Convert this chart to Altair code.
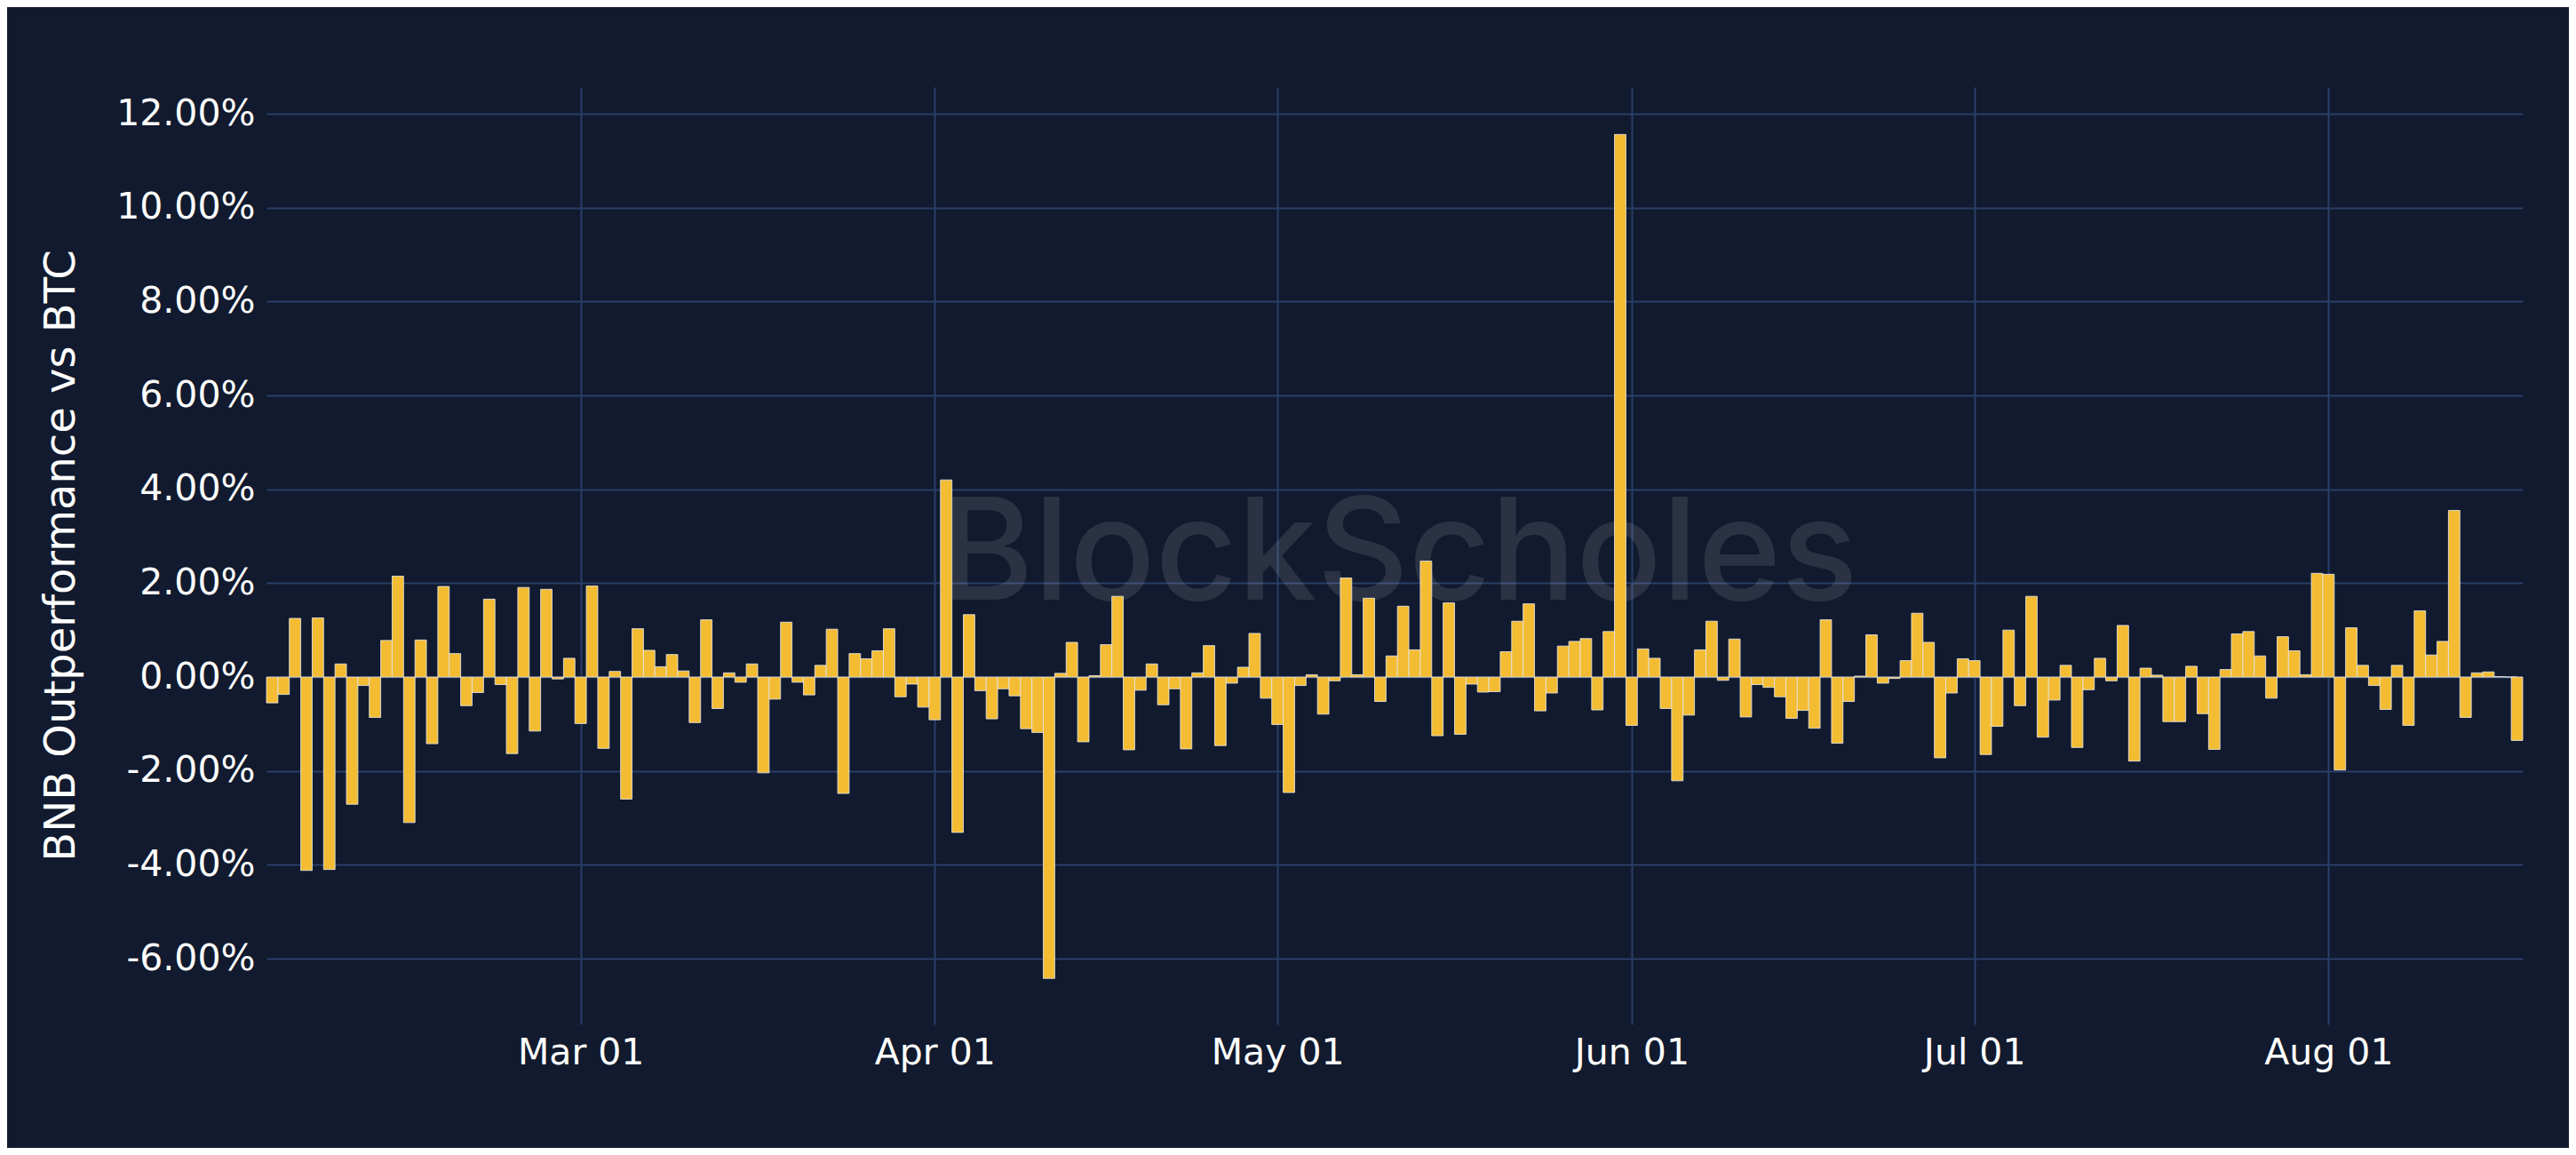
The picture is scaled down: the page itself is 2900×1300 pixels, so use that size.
import altair as alt
import pandas as pd

# ---- data (percent outperformance of BNB vs BTC, daily) ----
start_date = "2023-02-02"
feb_values = [-0.55, -0.37, 1.25, -4.12, 1.26, -4.10, 0.28, -2.71, -0.18, -0.86,
              0.78, 2.15, -3.10, 0.79, -1.42, 1.93, 0.50, -0.61, -0.33, 1.66,
              -0.16, -1.63, 1.91, -1.15, 1.87, -0.04, 0.40]
mar_values = [-0.99, 1.94, -1.52, 0.12, -2.60, 1.03, 0.57, 0.22, 0.48, 0.13,
              -0.97, 1.22, -0.67, 0.09, -0.11, 0.28, -2.04, -0.47, 1.17, -0.11,
              -0.38, 0.25, 1.02, -2.48, 0.50, 0.39, 0.56, 1.03, -0.42, -0.15, -0.64]
apr_values = [-0.91, 4.20, -3.31, 1.33, -0.29, -0.89, -0.25, -0.40, -1.10, -1.18,
              -6.42, 0.08, 0.74, -1.38, 0.03, 0.69, 1.72, -1.55, -0.28, 0.28,
              -0.59, -0.25, -1.53, 0.09, 0.67, -1.46, -0.13, 0.21, 0.93, -0.45]
may_values = [-1.01, -2.46, -0.18, 0.05, -0.79, -0.08, 2.11, 0.05, 1.68, -0.52,
              0.45, 1.51, 0.58, 2.47, -1.25, 1.58, -1.22, -0.15, -0.32, -0.31,
              0.54, 1.19, 1.56, -0.72, -0.34, 0.66, 0.76, 0.82, -0.70, 0.97, 11.56]
jun_values = [-1.03, 0.60, 0.40, -0.67, -2.21, -0.81, 0.58, 1.19, -0.07, 0.81,
              -0.85, -0.16, -0.22, -0.42, -0.88, -0.71, -1.09, 1.22, -1.41, -0.52,
              0.02, 0.90, -0.13, -0.03, 0.35, 1.36, 0.74, -1.72, -0.34, 0.39]
jul_values = [0.35, -1.65, -1.05, 1.00, -0.61, 1.72, -1.28, -0.49, 0.25, -1.50,
              -0.27, 0.40, -0.08, 1.10, -1.79, 0.19, 0.04, -0.95, -0.95, 0.23,
              -0.78, -1.54, 0.16, 0.92, 0.97, 0.45, -0.45, 0.86, 0.56, 0.05, 2.21]
aug_values = [2.19, -1.98, 1.05, 0.25, -0.18, -0.69, 0.25, -1.03, 1.41, 0.47,
              0.76, 3.55, -0.86, 0.09, 0.11, 0.01, 0.00]
last_date = "2023-08-17T12:00:00"
last_value = -1.35

x_start = "2023-02-01T12:00:00"
x_end = "2023-08-18T00:00:00"
month_ticks = ["2023-03-01", "2023-04-01", "2023-05-01", "2023-06-01",
               "2023-07-01", "2023-08-01"]
y_ticks = [-6, -4, -2, 0, 2, 4, 6, 8, 10, 12]
y_domain = [-7.4, 12.57]

# ---- build table ----
values = feb_values + mar_values + apr_values + may_values + jun_values + jul_values + aug_values
dates = list(pd.date_range(start_date, periods=len(values), freq="D", tz="UTC"))
dates.append(pd.Timestamp(last_date, tz="UTC"))
values.append(last_value)

def ms(t):
    if not isinstance(t, pd.Timestamp):
        t = pd.Timestamp(t, tz="UTC")
    return int(t.value // 10**6)

half_day = 12 * 3600 * 1000
df = pd.DataFrame({
    "t0": [ms(d) - half_day for d in dates],
    "t1": [ms(d) + half_day for d in dates],
    "value": values,
})

BG = "#111a2e"
GRID = "#2a3e68"
BAR = "#f3bc32"
FONT = "DejaVu Sans"

x_scale = alt.Scale(type="utc", domain=[ms(x_start), ms(x_end)])
y_scale = alt.Scale(domain=y_domain, nice=False, zero=False)

bars = alt.Chart(df).mark_rect(
    color=BAR, stroke="#e6e6e6", strokeWidth=1, strokeOpacity=0.85
).encode(
    x=alt.X("t0:T", scale=x_scale, title=None,
            axis=alt.Axis(values=[ms(m) for m in month_ticks],
                          labelExpr="utcFormat(datum.value, '%b %d')",
                          grid=True, gridColor=GRID, gridWidth=2,
                          ticks=False, domain=False,
                          labelFont=FONT, labelFontSize=41, labelColor="#ffffff",
                          labelPadding=12, labelAngle=0)),
    x2="t1:T",
    y=alt.Y("value:Q", scale=y_scale, title="BNB Outperformance vs BTC",
            axis=alt.Axis(values=y_ticks,
                          labelExpr="(datum.value < 0 ? '-' : '') + format(abs(datum.value), '.2f') + '%'",
                          grid=True, gridColor=GRID, gridWidth=2,
                          ticks=False, domain=False,
                          labelFont=FONT, labelFontSize=41, labelColor="#ffffff",
                          labelPadding=13,
                          titleFont=FONT, titleFontSize=48, titleFontWeight="normal",
                          titleColor="#ffffff", titleAngle=-90,
                          titleX=-231, titleY=527,
                          titleAlign="center", titleBaseline="middle")),
    y2=alt.datum(0),
)

watermark = alt.Chart(pd.DataFrame({"label": ["BlockScholes"]})).mark_text(
    font="Inter", fontSize=160, fontWeight=500, color="#ffffff", opacity=0.1,
    align="center", baseline="middle"
).encode(
    text="label:N",
    x=alt.value(1275),
    y=alt.value(529),
)

chart = alt.layer(watermark, bars).properties(
    width=2540,
    height=1055,
    background=BG,
    autosize=alt.AutoSizeParams(type="none"),
    padding={"left": 292, "top": 90, "right": 52, "bottom": 139},
).configure_view(strokeWidth=0)

chart.save("out.html", embed_options={"renderer": "svg", "actions": False})
